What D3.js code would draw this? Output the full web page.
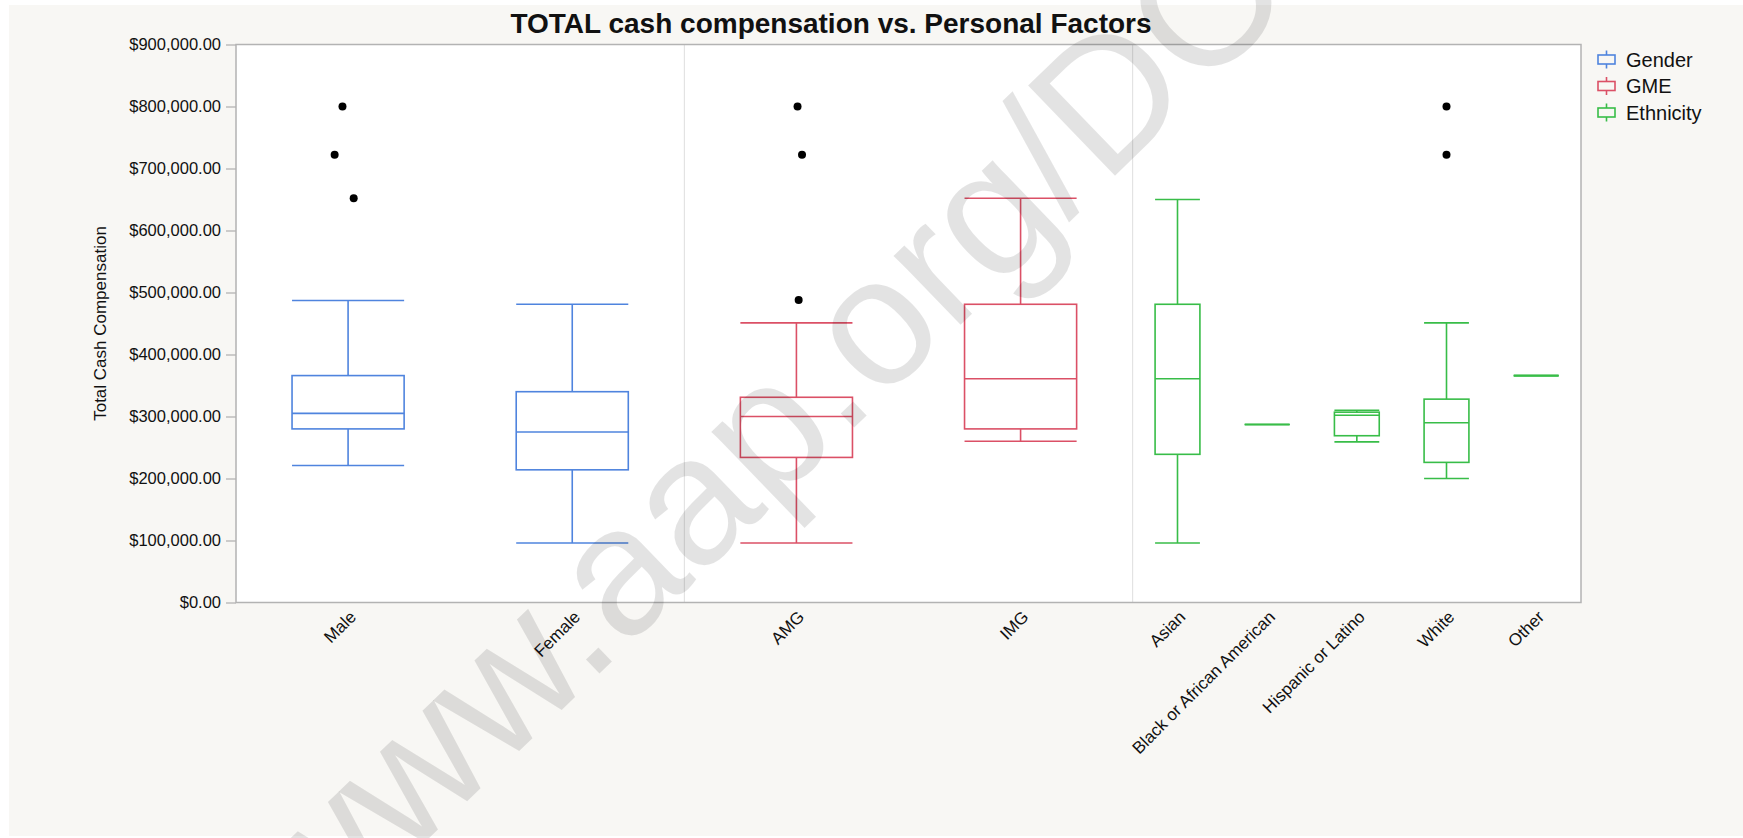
<!DOCTYPE html>
<html lang="en">
    <head>
        <meta charset="utf-8">
        <title>TOTAL cash compensation vs. Personal Factors</title>
        <script src="https://d3js.org/d3.v7.min.js"></script>
        <style>
            body { margin: 0; background: #ffffff; }
            text { font-family: "Liberation Sans", Arial, Helvetica, sans-serif; fill: #111; }
        </style>
    </head>
    <body>
        <div id="chart"></div>
        <script>
            // values
            var groups = ["Gender", "GME", "Ethnicity"];
            var categories = ["Male", "Female", "AMG", "IMG", "Asian", "Black or African American", "Hispanic or Latino", "White", "Other"];
            var categoryGroup = ["Gender", "Gender", "GME", "GME", "Ethnicity", "Ethnicity", "Ethnicity", "Ethnicity", "Ethnicity"];
            var whiskerLow  = [221000,  96000,  96000, 260000,  96000, 287000, 259000, 200000, 366000];
            var q1          = [280000, 214000, 234000, 280000, 239000, 287000, 269000, 226000, 366000];
            var median      = [305000, 275000, 300000, 361000, 361000, 287000, 302000, 290000, 366000];
            var q3          = [366000, 340000, 331000, 481000, 481000, 287000, 307000, 328000, 366000];
            var whiskerHigh = [487000, 481000, 451000, 652000, 650000, 287000, 310000, 451000, 366000];
            var outlierCategory = ["Male", "Male", "Male", "AMG", "AMG", "AMG", "White", "White"];
            var outlierValue    = [800000, 722000, 652000, 800000, 722000, 488000, 800000, 722000];
            var yTicks = [0, 100000, 200000, 300000, 400000, 500000, 600000, 700000, 800000, 900000];

            var colors = {"Gender": "#4f84de", "GME": "#db5066", "Ethnicity": "#38bd48"};
            // small horizontal spread of the outlier dots, as a share of the box width
            var jitter = [-0.05, -0.12, 0.05, 0.01, 0.05, 0.02, 0, 0];

            var W = 1743, H = 838;
            var margin = {top: 44.5, right: 162, bottom: 235.5, left: 236};
            var plotW = W - margin.left - margin.right,
                plotH = H - margin.top - margin.bottom;

            var svg = d3.select("#chart").append("svg")
                .attr("width", W)
                .attr("height", H);

            svg.append("rect")
                .attr("x", 9).attr("y", 5)
                .attr("width", W - 9).attr("height", H - 7)
                .attr("fill", "#f8f7f4");

            var g = svg.append("g")
                .attr("transform", "translate(" + margin.left + "," + margin.top + ")");

            g.append("rect")
                .attr("width", plotW).attr("height", plotH)
                .attr("fill", "#ffffff");

            var y = d3.scaleLinear().domain([0, 900000]).range([plotH, 0]);

            var xGroup = d3.scaleBand().domain(groups).range([0, plotW]);
            var xInner = {};
            groups.forEach(function(grp) {
                var cats = categories.filter(function(c, i) { return categoryGroup[i] === grp; });
                xInner[grp] = d3.scaleBand().domain(cats)
                    .range([xGroup(grp), xGroup(grp) + xGroup.bandwidth()]);
            });
            function cx(cat) {
                var grp = categoryGroup[categories.indexOf(cat)];
                return xInner[grp](cat) + xInner[grp].bandwidth() / 2;
            }
            function boxW(cat) {
                var grp = categoryGroup[categories.indexOf(cat)];
                return xInner[grp].bandwidth() * 0.5;
            }

            // group dividers
            g.selectAll(".divider")
                .data(groups.slice(1))
                .enter().append("line")
                .attr("x1", function(d) { return xGroup(d); })
                .attr("x2", function(d) { return xGroup(d); })
                .attr("y1", 0).attr("y2", plotH)
                .attr("stroke", "#dedede").attr("stroke-width", 1);

            // y axis
            var fmt = d3.format(",.2f");
            var yAxis = g.append("g")
                .call(d3.axisLeft(y).tickValues(yTicks).tickSize(10).tickPadding(5)
                    .tickFormat(function(d) { return "$" + fmt(d); }));
            yAxis.select(".domain").remove();
            yAxis.selectAll(".tick line").attr("stroke", "#b3b3b3").attr("stroke-width", 1.3);
            yAxis.selectAll(".tick text")
                .style("font-size", "16.5px")
                .style("font-family", "'Liberation Sans', Arial, sans-serif")
                .attr("fill", "#111");

            // boxes
            var boxes = categories.map(function(c, i) {
                return {cat: c, grp: categoryGroup[i], lo: whiskerLow[i], q1: q1[i], med: median[i], q3: q3[i], hi: whiskerHigh[i]};
            });

            var bx = g.selectAll(".box").data(boxes).enter().append("g")
                .attr("class", "box")
                .attr("stroke", function(d) { return colors[d.grp]; })
                .attr("stroke-width", 1.6)
                .attr("fill", "none");

            bx.append("line")
                .attr("x1", function(d) { return cx(d.cat); })
                .attr("x2", function(d) { return cx(d.cat); })
                .attr("y1", function(d) { return y(d.hi); })
                .attr("y2", function(d) { return y(d.q3); });
            bx.append("line")
                .attr("x1", function(d) { return cx(d.cat); })
                .attr("x2", function(d) { return cx(d.cat); })
                .attr("y1", function(d) { return y(d.q1); })
                .attr("y2", function(d) { return y(d.lo); });
            bx.append("rect")
                .attr("x", function(d) { return cx(d.cat) - boxW(d.cat) / 2; })
                .attr("y", function(d) { return y(d.q3); })
                .attr("width", function(d) { return boxW(d.cat); })
                .attr("height", function(d) { return y(d.q1) - y(d.q3); });
            ["hi", "lo", "med"].forEach(function(k) {
                bx.append("line")
                    .attr("x1", function(d) { return cx(d.cat) - boxW(d.cat) / 2; })
                    .attr("x2", function(d) { return cx(d.cat) + boxW(d.cat) / 2; })
                    .attr("y1", function(d) { return y(d[k]); })
                    .attr("y2", function(d) { return y(d[k]); });
            });

            // outliers
            g.selectAll(".outlier")
                .data(outlierValue)
                .enter().append("circle")
                .attr("cx", function(d, i) { return cx(outlierCategory[i]) + jitter[i] * boxW(outlierCategory[i]); })
                .attr("cy", function(d) { return y(d); })
                .attr("r", 4)
                .attr("fill", "#000");

            // frame
            g.append("rect")
                .attr("width", plotW).attr("height", plotH)
                .attr("fill", "none")
                .attr("stroke", "#b3b3b3").attr("stroke-width", 1.5);

            // x labels
            g.selectAll(".xlab")
                .data(categories)
                .enter().append("text")
                .attr("transform", function(d) { return "translate(" + (cx(d) + 9) + "," + (plotH + 15.5) + ") rotate(-45)"; })
                .attr("text-anchor", "end")
                .style("font-size", "17px")
                .text(function(d) { return d; });

            // y axis title
            svg.append("text")
                .attr("transform", "translate(106," + (margin.top + plotH / 2) + ") rotate(-90)")
                .attr("text-anchor", "middle")
                .style("font-size", "17px")
                .text("Total Cash Compensation");

            // title
            svg.append("text")
                .attr("x", 831).attr("y", 33)
                .attr("text-anchor", "middle")
                .style("font-size", "28px")
                .style("font-weight", "bold")
                .text("TOTAL cash compensation vs. Personal Factors");

            // legend
            var leg = svg.append("g").attr("transform", "translate(1606.5,59.5)");
            var item = leg.selectAll(".item").data(groups).enter().append("g")
                .attr("transform", function(d, i) { return "translate(0," + (i * 26.5) + ")"; });
            item.append("line")
                .attr("x1", 0).attr("x2", 0).attr("y1", -9).attr("y2", 9)
                .attr("stroke", function(d) { return colors[d]; }).attr("stroke-width", 1.6);
            item.append("rect")
                .attr("x", -8.5).attr("y", -4.5).attr("width", 17).attr("height", 9)
                .attr("fill", "#f8f7f4")
                .attr("stroke", function(d) { return colors[d]; }).attr("stroke-width", 1.6);
            item.append("text")
                .attr("x", 19.5).attr("dy", "0.36em")
                .style("font-size", "20px")
                .text(function(d) { return d; });

            // watermark over everything
            svg.append("text")
                .attr("transform", "translate(311,952) rotate(-44)")
                .style("font-size", "182px")
                .style("fill", "#000")
                .style("fill-opacity", 0.11)
                .style("pointer-events", "none")
                .text("www.aap.org/DOCS");
        </script>
    </body>
</html>
